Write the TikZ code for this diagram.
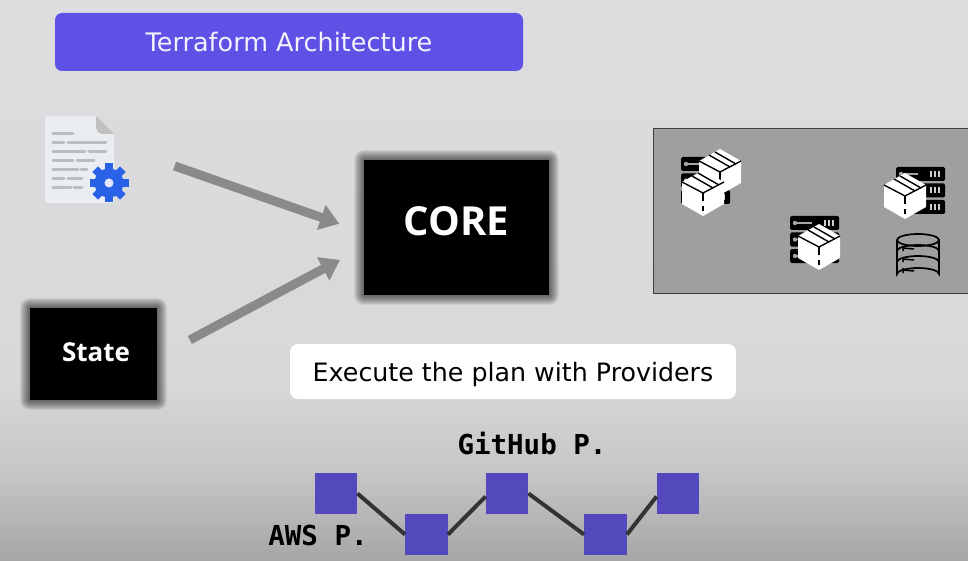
\documentclass[tikz,border=0pt]{standalone}
\usepackage{fontspec}
\setmainfont{DejaVu Sans}
\setmonofont{DejaVu Sans Mono}
\newfontfamily\headfont{Open Sans}
\usepackage{tikz}
\usetikzlibrary{arrows.meta,calc}
\definecolor{bgtop}{HTML}{DDDDDF}
\definecolor{bgmid}{HTML}{D8D8DA}
\definecolor{bglow}{HTML}{C6C6C8}
\definecolor{bgend}{HTML}{A6A6A8}
\definecolor{titleblue}{HTML}{5F50E6}
\definecolor{stepblue}{HTML}{5349BC}
\definecolor{gearblue}{HTML}{2962E6}
\definecolor{paper}{HTML}{EAEDF2}
\pgfdeclareverticalshading{bgfade}{100bp}{color(0bp)=(bgend); color(25bp)=(bgend); color(33bp)=(bglow); color(41bp)=(bgmid); color(75bp)=(bgtop); color(100bp)=(bgtop)}
\tikzset{
  gl/.style={preaction={draw=black,draw opacity=.065,line width=#1,line join=round}},
  glow/.style={gl=20pt,gl=18pt,gl=16pt,gl=14pt,gl=12pt,gl=10pt,gl=8pt,gl=6pt,gl=4pt,gl=2pt},
  pics/srv/.style={code={
    \foreach \y in {0,16.5,33}{
      \fill[black,rounded corners=1.5pt] (0,\y) rectangle (49,\y+14);
      \draw[white!65!black,line width=1.4pt] (3,\y+7) -- (22,\y+7);
      \fill[white!65!black] (5,\y+7) circle (2.2);
      \foreach \x in {35,39,43}{\draw[white!80!black,line width=1.6pt] (\x,\y+4) -- (\x,\y+10);}
    }}},
  pics/parcel/.style={code={
    \fill[white] (0,-23) -- (21,-11) -- (21,11) -- (0,23) -- (-21,11) -- (-21,-11) -- cycle;
    \draw[black,line width=1.4pt] (-21,-11) -- (0,0) -- (21,-11);
    \draw[black,line width=1.4pt] (-11,-17) -- (10,-5) (-5,-20) -- (16,-8);
    \draw[black,line width=1.4pt] (0,0) -- (0,8) (0,13) -- (0,18);
    }},
}
\begin{document}
\begin{tikzpicture}[x=1pt,y=-1pt,>=Stealth,
  titlebox/.style={fill=titleblue,rounded corners=7pt,minimum width=468pt,minimum height=58pt,text=white!92!titleblue,font=\fontsize{25.5}{30}\selectfont},
  blk/.style={fill=black,glow,text=white},
  thick arrow/.style={->,draw=gray!92,line width=9pt,arrows={-Triangle[length=19pt,width=25pt]}},
  sq/.style={fill=stepblue,minimum width=42.5pt,minimum height=41.5pt},
  lnk/.style={draw=black!80,line width=4pt},
  lbl/.style={font=\ttfamily\bfseries\fontsize{27.5}{30}\selectfont}]
  \useasboundingbox (0,0) rectangle (968,561);
  \shade[shading=bgfade] (0,0) rectangle (968,561);

  \node[titlebox] (title) at (289,42) {Terraform Architecture};

  % config file icon
  \node[minimum width=85pt,minimum height=88pt,inner sep=0pt] (doc) at (87.5,159.5) {};
  \fill[rounded corners=3pt,fill=paper] (45,116) -- (96,116) -- (114,134) -- (114,203) -- (45,203) -- cycle;
  \fill[rounded corners=2pt,fill=gray!50] (96,116) -- (114,134) -- (100,134) -- (96,130) -- cycle;
  \foreach \a/\bb/\c in {53/73/134,53/64/143,68/106/143,53/85/152,89/106/152,53/73/161,77/94/161,53/78/170,81/87/170,53/64/179,68/82/179,53/71/188,74/82/188}{
    \draw[gray!52,line width=3pt,line cap=round] (\a,\c) -- (\bb,\c);}
  \foreach \r in {0,45,...,315}{
    \fill[gearblue,rotate around={\r:(109,183)}] (105,163.5) rectangle (113,175);}
  \fill[gearblue] (109,183) circle (14.5);
  \fill[white!90!blue] (109,183) circle (4.5);

  \node[blk,minimum width=185pt,minimum height=135pt,font=\headfont\bfseries\fontsize{40}{44}\selectfont] (core) at (456.5,227.5) {\raisebox{-8.5pt}[20pt][20pt]{CORE}};
  \node[blk,minimum width=127pt,minimum height=92pt,font=\headfont\bfseries\fontsize{26}{30}\selectfont] (state) at (93.5,354) {\hspace*{5pt}\raisebox{-7pt}[14pt][14pt]{State}};

  \draw[thick arrow,shorten <=47pt,shorten >=26pt] (doc.12) -- (core.183);
  \draw[thick arrow,shorten <=37pt,shorten >=27pt] (state.-3) -- (core.192);

  % resources
  \node[draw=black!75,line width=1pt,fill=gray!75!white,anchor=north west,minimum width=325pt,minimum height=165pt] (panel) at (653,128) {};
  \pic at (681,157) {srv};
  \pic at (720,172) {parcel};
  \pic at (703,193) {parcel};
  \pic at (896,167) {srv};
  \pic at (905,196) {parcel};
  \pic at (790,216) {srv};
  \pic at (819,247) {parcel};

  % database
  \draw[black,line width=1.7pt] (897,240) -- (897,274) arc[start angle=180,end angle=360,x radius=21,y radius=6] -- (939,240);
  \draw[black,line width=1.7pt] (918,240) ellipse (21 and 6);
  \foreach \y in {251,262}{\draw[black,line width=1.7pt] (897,\y) arc[start angle=180,end angle=360,x radius=21,y radius=6];}
  \foreach \y in {248,259,270}{\draw[black,line width=1.5pt] (903,\y-2) -- (903,\y+3) (903,\y) -- (914,\y+1);}

  \node[fill=white,rounded corners=8pt,minimum width=446pt,minimum height=55pt,font=\fontsize{25.3}{30}\selectfont] (plan) at (513,371.5) {\raisebox{-9.5pt}[14pt][14pt]{Execute the plan with Providers}};

  \node[lbl] (gh) at (532,444) {GitHub P.};
  \node[sq] (s1) at (336,493.5) {};
  \node[sq] (s2) at (426.5,534.5) {};
  \node[sq] (s3) at (507,493.5) {};
  \node[sq] (s4) at (605.5,534.5) {};
  \node[sq] (s5) at (678,493.5) {};
  \node[lbl] (aws) at (318,535) {AWS P.};
  \foreach \a/\bb in {s1.east/s2.west,s2.east/s3.188,s3.east/s4.west,s4.east/s5.188}{\draw[lnk] (\a) -- (\bb);}
\end{tikzpicture}
\end{document}
